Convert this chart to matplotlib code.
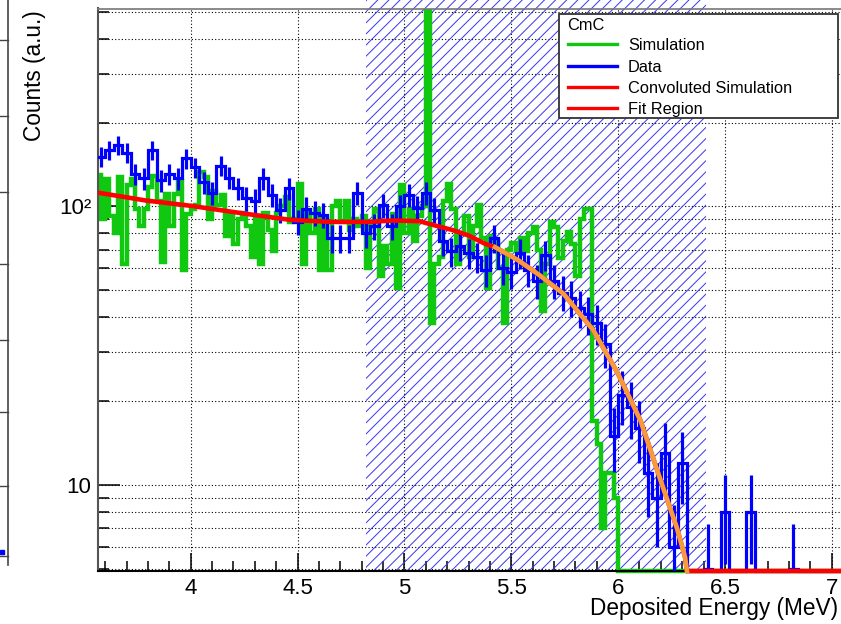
import numpy as np
import matplotlib
matplotlib.use("Agg")
import matplotlib.pyplot as plt
from matplotlib.patches import Rectangle
from matplotlib.lines import Line2D
from matplotlib.ticker import FixedLocator, FixedFormatter, NullFormatter, MultipleLocator

plt.rcParams['font.family'] = ['Liberation Sans', 'DejaVu Sans']
plt.rcParams['hatch.linewidth'] = 0.7

# ---------------- data ----------------
sim_start = 3.56
sim_width = 0.02
sim_counts = [130, 90, 125, 92, 80, 128, 62, 119, 125, 98,
              85, 98, 117, 129, 105, 63, 111, 85, 111, 123,
              59, 94, 98, 101, 133, 128, 90, 114, 101, 110,
              78, 95, 73, 90, 95, 85, 66, 92, 62, 95,
              82, 69, 95, 100, 108, 88, 90, 120, 62, 95,
              80, 98, 59, 90, 59, 100, 105, 88, 105, 82,
              90, 85, 92, 60, 85, 98, 56, 72, 62, 94,
              51, 119, 80, 98, 75, 92, 100, 600, 38, 62,
              66, 105, 120, 98, 62, 80, 92, 66, 85, 101,
              77, 51, 78, 75, 60, 38, 70, 74, 69, 77,
              69, 80, 84, 70, 42, 62, 88, 84, 65, 75,
              81, 73, 56, 90, 98, 98, 17, 14, 7, 11,
              11, 9] + [0] * 54

data_start = 3.56
data_width = 0.04
data_counts = [151, 159, 166, 156, 131, 126, 159, 124, 131, 126,
               149, 138, 122, 112, 140, 127, 116, 107, 105, 126,
               110, 97, 116, 88, 98, 95, 93, 77, 77, 77,
               112, 80, 85, 101, 85, 100, 110, 99, 112, 97,
               75, 69, 72, 68, 66, 59, 77, 60, 58, 68,
               59, 54, 67, 54, 49, 47, 43, 41, 38, 32,
               15, 21, 19, 16, 11, 9, 13, 6, 12, 0,
               0, 5, 0, 8, 0, 0, 8, 0, 0, 0,
               0, 5, 0, 0, 0, 0, 0, 0]

conv_energy = [3.567, 3.79, 4.0, 4.26, 4.465, 4.65, 4.83, 4.95, 5.07, 5.143,
               5.221, 5.299, 5.377, 5.424, 5.533, 5.634, 5.744, 5.884, 6.0, 6.105,
               6.2, 6.275, 6.313, 6.322, 6.34, 7.1]
conv_values = [112, 105, 100.5, 94, 89.5, 88, 88, 89, 88.5, 85.4,
               82.4, 78.7, 73.4, 71.4, 64, 56.5, 48.6, 35.9, 25.0, 17.0,
               10.3, 7.0, 5.5, 4.9, 0, 0]

fit_curve_range = (5.424, 6.322)
fit_region = (4.82, 6.41)

x_ticks = [4, 4.5, 5, 5.5, 6, 6.5, 7]
x_tick_labels = ['4', '4.5', '5', '5.5', '6', '6.5', '7']
y_major = [10, 100]
y_major_labels = ['10', '10\u00b2']
y_minor = [5, 6, 7, 8, 9, 20, 30, 40, 50, 60, 70, 80, 90, 200, 300, 400, 500]

legend_title = 'CmC'
legend_labels = ['Simulation', 'Data', 'Convoluted Simulation', 'Fit Region']
x_label = 'Deposited Energy (MeV)'
y_label = 'Counts (a.u.)'

# ---------------- styles ----------------
GREEN = '#11c811'
BLUE = '#0000ff'
RED = '#ff0000'
ORANGE = '#f79a3c'
HATCH = '#3535ee'

W, H = 841, 624
def fx(px):
    return px / W
def fy(py):
    return 1 - py / H

fig = plt.figure(figsize=(W / 100, H / 100), dpi=100)
ax_left, ax_right, ax_top, ax_bottom = 98.3, 853.2, 8.5, 571.0
ax = fig.add_axes([fx(ax_left), fy(ax_bottom), (ax_right - ax_left) / W, (ax_bottom - ax_top) / H])

xmin, xmax = 3.5676, 7.1
ymin, ymax = 4.90, 514.0
ax.set_yscale('log')
ax.set_xlim(xmin, xmax)
ax.set_ylim(ymin, ymax)

clip_rect = Rectangle((0, -0.006), 1, 1.006, transform=ax.transAxes)

# fit region hatch
span = ax.axvspan(fit_region[0], fit_region[1], ymin=0, ymax=1.06, facecolor='none',
                  edgecolor=HATCH, hatch='///', lw=0, clip_on=False, zorder=1)

# simulation histogram
sim = np.array(sim_counts, dtype=float)
sim_edges = sim_start + sim_width * np.arange(len(sim) + 1)
sim_plot = np.where(sim > 0, sim, ymin)
sp = ax.stairs(sim_plot, sim_edges, baseline=None, color=GREEN, lw=3.2, zorder=2)
sp.set_joinstyle('miter')
sp.set_clip_path(clip_rect)

# data histogram with error bars
dat = np.array(data_counts, dtype=float)
dat_edges = data_start + data_width * np.arange(len(dat) + 1)
dat_centers = 0.5 * (dat_edges[:-1] + dat_edges[1:])
dat_plot = np.where(dat > 0, dat, ymin)
dp = ax.stairs(dat_plot, dat_edges, baseline=None, color=BLUE, lw=2.3, zorder=3)
dp.set_joinstyle('miter')
dp.set_clip_path(clip_rect)
nz = dat > 0
err = np.sqrt(dat[nz])
ax.vlines(dat_centers[nz], dat[nz] - err, dat[nz] + err, colors=BLUE, lw=2.3, zorder=3)

# convoluted simulation
cx = np.array(conv_energy)
cv = np.array(conv_values, dtype=float)
cv_plot = np.where(cv > 0, cv, ymin)
l1, = ax.plot(cx, cv_plot, color=RED, lw=3.3, zorder=4, solid_joinstyle='round')
l1.set_clip_path(clip_rect)
m = (cx >= fit_curve_range[0]) & (cx <= fit_curve_range[1])
l2, = ax.plot(cx[m], cv_plot[m], color=ORANGE, lw=3.3, zorder=5, solid_joinstyle='round')
l2.set_clip_path(clip_rect)

# axes styling
ax.xaxis.set_major_locator(FixedLocator(x_ticks))
ax.xaxis.set_major_formatter(FixedFormatter(x_tick_labels))
ax.xaxis.set_minor_locator(MultipleLocator(0.1))
ax.xaxis.set_minor_formatter(NullFormatter())
ax.yaxis.set_major_locator(FixedLocator(y_major))
ax.yaxis.set_major_formatter(FixedFormatter(y_major_labels))
ax.yaxis.set_minor_locator(FixedLocator(y_minor))
ax.yaxis.set_minor_formatter(NullFormatter())

ax.set_axisbelow(True)
ax.tick_params(which='both', direction='in', top=False, right=False, color='black')
ax.tick_params(axis='x', which='major', length=13, width=1.1, labelsize=16, pad=5)
ax.tick_params(axis='x', which='minor', length=7, width=1.1)
ax.tick_params(axis='y', which='major', length=16, width=1.1, labelsize=16, pad=5)
ax.tick_params(axis='y', which='minor', length=8, width=1.1)
grid_kw = dict(color='black', linestyle=(0, (1, 2)), linewidth=0.8)
ax.xaxis.grid(True, which='major', **grid_kw)
ax.yaxis.grid(True, which='both', **grid_kw)

ax.spines['left'].set_color('#555555')
ax.spines['left'].set_linewidth(1.5)
ax.spines['bottom'].set_color('black')
ax.spines['bottom'].set_linewidth(1.5)
ax.spines['top'].set_color('#777777')
ax.spines['top'].set_linewidth(1.2)
ax.spines['right'].set_visible(False)

# axis titles
fig.text(fx(838), fy(615), x_label, ha='right', va='baseline', fontsize=16.3)
fig.text(fx(35), fy(76), y_label, ha='center', va='center', rotation=90, fontsize=16.3)

# legend (drawn as a ROOT-style box)
lg_l, lg_r, lg_t, lg_b = 559.3, 838.3, 14.0, 118.3
fig.add_artist(Rectangle((fx(lg_l), fy(lg_b)), (lg_r - lg_l) / W, (lg_b - lg_t) / H,
                         transform=fig.transFigure, facecolor='white',
                         edgecolor='#333333', lw=1.3, zorder=20))
fig.text(fx(567), fy(29.5), legend_title, ha='left', va='baseline', fontsize=11.8, zorder=21)
entry_y = [44, 65.7, 87.3, 108.3]
entry_colors = [GREEN, BLUE, RED, RED]
for yy, lab, col in zip(entry_y, legend_labels, entry_colors):
    fig.add_artist(Line2D([fx(568), fx(617)], [fy(yy), fy(yy)], transform=fig.transFigure,
                          color=col, lw=2.4, zorder=21))
    fig.text(fx(628), fy(yy + 5.9), lab, ha='left', va='baseline', fontsize=11.8, zorder=21)

# fragment of the neighbouring pad at the left edge
fig.add_artist(Line2D([fx(7.5), fx(7.5)], [fy(0), fy(565)], transform=fig.transFigure,
                      color='#444444', lw=1.2))
for yy in [40, 116, 192, 264, 340, 412, 486, 556]:
    fig.add_artist(Line2D([fx(0), fx(7.5)], [fy(yy), fy(yy)], transform=fig.transFigure,
                          color='#444444', lw=1.0))
fig.add_artist(Line2D([fx(1.5)], [fy(552)], transform=fig.transFigure, marker='s',
                      markersize=2.5, color=BLUE, lw=0))

fig.savefig('out.png', dpi=100)
